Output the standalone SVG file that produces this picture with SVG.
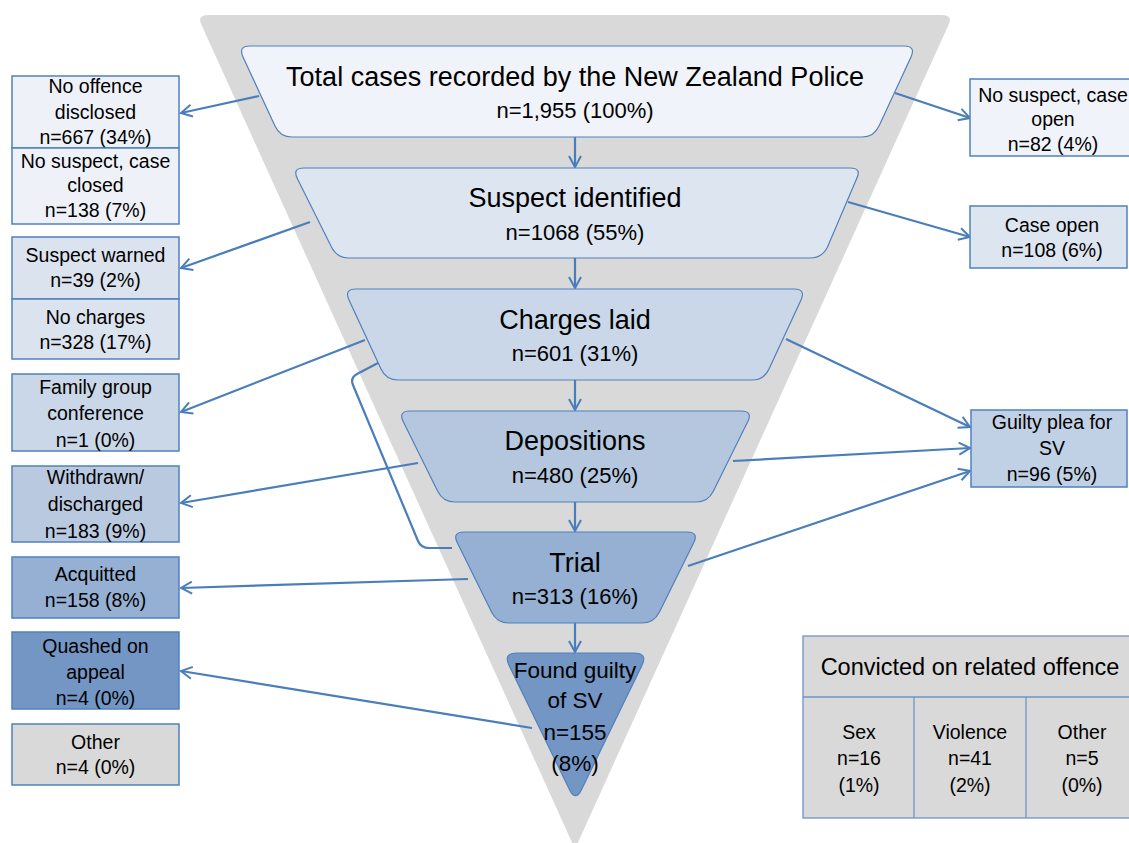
<svg xmlns="http://www.w3.org/2000/svg" width="1129" height="843" viewBox="0 0 1129 843">
<defs>
<style>
text{font-family:"Liberation Sans",Arial,sans-serif;fill:#000;text-anchor:middle}
.big{font-size:27px}
.num{font-size:22px}
.sm{font-size:19.5px}
.fg{font-size:22.5px}
.stage{stroke:#4f81bd;stroke-width:1.2}
.box{stroke:#4f81bd;stroke-width:1.5}
.con{fill:none;stroke:#4a7ebb;stroke-width:2.2}
</style>
<marker id="arr" viewBox="0 0 14 14" refX="12" refY="7" markerWidth="14" markerHeight="14" markerUnits="userSpaceOnUse" orient="auto">
<path d="M1,1 L12,7 L1,13" fill="none" stroke="#4a7ebb" stroke-width="2"/>
</marker>
</defs>
<rect width="1129" height="843" fill="#fff"/>
<path id="funnel" d="M209,15 L941,15 Q953,15 948.9,24.1 L575,849 L201.1,24.1 Q197,15 209,15 Z" fill="#d9d9d9"/>

<g id="connectors" class="con">
<line x1="575" y1="137" x2="575" y2="167" marker-end="url(#arr)"/>
<line x1="575" y1="258" x2="575" y2="288" marker-end="url(#arr)"/>
<line x1="575" y1="380" x2="575" y2="410" marker-end="url(#arr)"/>
<line x1="575" y1="502" x2="575" y2="531" marker-end="url(#arr)"/>
<line x1="575" y1="623" x2="575" y2="652" marker-end="url(#arr)"/>
<line x1="259" y1="96" x2="181" y2="113" marker-end="url(#arr)"/>
<line x1="310" y1="222" x2="181" y2="268" marker-end="url(#arr)"/>
<line x1="365" y1="340" x2="181" y2="412" marker-end="url(#arr)"/>
<line x1="418" y1="463" x2="181" y2="503" marker-end="url(#arr)"/>
<line x1="468" y1="579" x2="181" y2="588" marker-end="url(#arr)"/>
<line x1="532" y1="728" x2="181" y2="671" marker-end="url(#arr)"/>
<line x1="895" y1="93" x2="970" y2="118" marker-end="url(#arr)"/>
<line x1="848" y1="202" x2="970" y2="237" marker-end="url(#arr)"/>
<line x1="786" y1="339" x2="970" y2="427" marker-end="url(#arr)"/>
<line x1="733" y1="461" x2="970" y2="448" marker-end="url(#arr)"/>
<line x1="688" y1="566" x2="970" y2="471" marker-end="url(#arr)"/>
<path d="M378,363 L357,374 Q350,378 353,385 L418,541 Q421,548 429,548 L452,548"/>
</g>

<g id="n-total">
<path class="stage" fill="#f0f3f9" d="M250,46 L904,46 Q916,46 911,57 L879,126 Q874,137 862,137 L292,137 Q280,137 275,126 L243,57 Q238,46 250,46 Z"/>
<text class="big" x="575" y="86">Total cases recorded by the New Zealand Police</text>
<text class="num" x="575" y="118">n=1,955 (100%)</text>
</g>
<g id="n-suspect">
<path class="stage" fill="#dde5f0" d="M304,168 L850,168 Q862,168 856.6,178.7 L827.4,247.3 Q822,258 810,258 L349,258 Q337,258 331.6,247.3 L297.4,178.7 Q292,168 304,168 Z"/>
<text class="big" x="575" y="207">Suspect identified</text>
<text class="num" x="575" y="240">n=1068 (55%)</text>
</g>
<g id="n-charges">
<path class="stage" fill="#c9d7e8" d="M356,289 L794,289 Q806,289 801,299.9 L769,369.1 Q764,380 752,380 L398,380 Q386,380 381,369.1 L349,299.9 Q344,289 356,289 Z"/>
<text class="big" x="575" y="329">Charges laid</text>
<text class="num" x="575" y="361">n=601 (31%)</text>
</g>
<g id="n-depositions">
<path class="stage" fill="#b4c7df" d="M410,411 L741,411 Q753,411 747.7,421.8 L713.3,491.2 Q708,502 696,502 L455,502 Q443,502 437.7,491.2 L403.3,421.8 Q398,411 410,411 Z"/>
<text class="big" x="575" y="450">Depositions</text>
<text class="num" x="575" y="483">n=480 (25%)</text>
</g>
<g id="n-trial">
<path class="stage" fill="#95b0d2" d="M464,532 L687,532 Q699,532 693.7,542.8 L659.3,612.2 Q654,623 642,623 L509,623 Q497,623 491.7,612.2 L457.3,542.8 Q452,532 464,532 Z"/>
<text class="big" x="575" y="572">Trial</text>
<text class="num" x="575" y="604">n=313 (16%)</text>
</g>
<g id="n-guilty">
<path class="stage" fill="#7396c4" d="M517,653 L634,653 Q648,653 641.9,665.6 L581.6,789.4 Q575.5,802 569.4,789.4 L509.1,665.6 Q503,653 517,653 Z"/>
<text class="fg" x="575" y="678">Found guilty</text>
<text class="fg" x="575" y="708">of SV</text>
<text class="fg" x="575" y="740">n=155</text>
<text class="fg" x="575" y="771">(8%)</text>
</g>

<g id="l-nooffence">
<rect class="box" x="12" y="76" width="167" height="72" fill="#eef2f8"/>
<text class="sm" x="95.5" y="93">No offence</text>
<text class="sm" x="95.5" y="119">disclosed</text>
<text class="sm" x="95.5" y="144">n=667 (34%)</text>
</g>
<g id="l-nosuspect">
<rect class="box" x="12" y="148" width="167" height="76" fill="#eef2f8"/>
<text class="sm" x="95.5" y="168">No suspect, case</text>
<text class="sm" x="95.5" y="192">closed</text>
<text class="sm" x="95.5" y="217">n=138 (7%)</text>
</g>
<g id="l-warned">
<rect class="box" x="12" y="237" width="167" height="62" fill="#dbe3ee"/>
<text class="sm" x="95.5" y="262">Suspect warned</text>
<text class="sm" x="95.5" y="287">n=39 (2%)</text>
</g>
<g id="l-nocharges">
<rect class="box" x="12" y="299" width="167" height="60" fill="#dbe3ee"/>
<text class="sm" x="95.5" y="324">No charges</text>
<text class="sm" x="95.5" y="349">n=328 (17%)</text>
</g>
<g id="l-family">
<rect class="box" x="12" y="374" width="167" height="77" fill="#c9d7e8"/>
<text class="sm" x="95.5" y="394">Family group</text>
<text class="sm" x="95.5" y="420">conference</text>
<text class="sm" x="95.5" y="447">n=1 (0%)</text>
</g>
<g id="l-withdrawn">
<rect class="box" x="12" y="466" width="167" height="76" fill="#b9cae0"/>
<text class="sm" x="95.5" y="484">Withdrawn/</text>
<text class="sm" x="95.5" y="511">discharged</text>
<text class="sm" x="95.5" y="538">n=183 (9%)</text>
</g>
<g id="l-acquitted">
<rect class="box" x="12" y="557" width="167" height="61" fill="#95b0d2"/>
<text class="sm" x="95.5" y="581">Acquitted</text>
<text class="sm" x="95.5" y="607">n=158 (8%)</text>
</g>
<g id="l-quashed">
<rect class="box" x="12" y="632" width="167" height="77" fill="#7396c4"/>
<text class="sm" x="95.5" y="653">Quashed on</text>
<text class="sm" x="95.5" y="679">appeal</text>
<text class="sm" x="95.5" y="705">n=4 (0%)</text>
</g>
<g id="l-other">
<rect class="box" x="12" y="724" width="167" height="61" fill="#d9d9d9"/>
<text class="sm" x="95.5" y="749">Other</text>
<text class="sm" x="95.5" y="774">n=4 (0%)</text>
</g>

<g id="r-nosuspectopen">
<rect class="box" x="970" y="79" width="170" height="77" fill="#f0f3f9"/>
<text class="sm" x="1053" y="102">No suspect, case</text>
<text class="sm" x="1053" y="126">open</text>
<text class="sm" x="1053" y="151">n=82 (4%)</text>
</g>
<g id="r-caseopen">
<rect class="box" x="970" y="206" width="157" height="62" fill="#dde5f0"/>
<text class="sm" x="1052" y="232">Case open</text>
<text class="sm" x="1052" y="257">n=108 (6%)</text>
</g>
<g id="r-guiltyplea">
<rect class="box" x="971" y="410" width="156" height="77" fill="#c1d1e5"/>
<text class="sm" x="1052" y="429">Guilty plea for</text>
<text class="sm" x="1052" y="455">SV</text>
<text class="sm" x="1052" y="481">n=96 (5%)</text>
</g>

<g id="t-related">
<rect x="803" y="636" width="334" height="182" fill="#d9d9d9" stroke="#6f93c6" stroke-width="1.3"/>
<line x1="803" y1="697" x2="1137" y2="697" stroke="#6f93c6" stroke-width="1.3"/>
<line x1="914" y1="697" x2="914" y2="818" stroke="#6f93c6" stroke-width="1.3"/>
<line x1="1026" y1="697" x2="1026" y2="818" stroke="#6f93c6" stroke-width="1.3"/>
<text x="970" y="675" style="font-size:23.5px">Convicted on related offence</text>
<text class="sm" x="859" y="739">Sex</text>
<text class="sm" x="859" y="765">n=16</text>
<text class="sm" x="859" y="792">(1%)</text>
<text class="sm" x="970" y="739">Violence</text>
<text class="sm" x="970" y="765">n=41</text>
<text class="sm" x="970" y="792">(2%)</text>
<text class="sm" x="1082" y="739">Other</text>
<text class="sm" x="1082" y="765">n=5</text>
<text class="sm" x="1082" y="792">(0%)</text>
</g>
</svg>
